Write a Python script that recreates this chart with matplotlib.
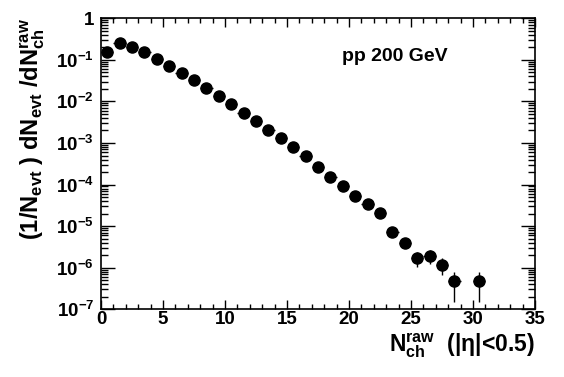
import numpy as np
import matplotlib
matplotlib.use('Agg')
import matplotlib.pyplot as plt
from matplotlib.ticker import LogLocator, MultipleLocator, FuncFormatter, NullFormatter

plt.rcParams['font.family'] = ['Liberation Sans', 'DejaVu Sans']
plt.rcParams['font.weight'] = 'bold'
plt.rcParams['mathtext.fontset'] = 'custom'
plt.rcParams['mathtext.rm'] = 'Liberation Sans:bold'
plt.rcParams['mathtext.it'] = 'Liberation Sans:bold'
plt.rcParams['mathtext.bf'] = 'Liberation Sans:bold'
plt.rcParams['mathtext.default'] = 'regular'

# multiplicity bins (bin centres) and normalised yields
nch = [0.5, 1.5, 2.5, 3.5, 4.5, 5.5, 6.5, 7.5, 8.5, 9.5, 10.5, 11.5, 12.5, 13.5,
       14.5, 15.5, 16.5, 17.5, 18.5, 19.5, 20.5, 21.5, 22.5, 23.5, 24.5, 25.5,
       26.5, 27.5, 28.5, 30.5]
yld = [0.157, 0.259, 0.207, 0.152, 0.107, 0.072, 0.049, 0.0333, 0.021, 0.0137,
       0.0088, 0.0054, 0.00344, 0.0021, 0.0013, 7.9e-4, 4.9e-4, 2.7e-4, 1.55e-4,
       9.4e-5, 5.4e-5, 3.4e-5, 2.1e-5, 7.4e-6, 4.0e-6, 1.74e-6, 1.95e-6, 1.18e-6,
       4.8e-7, 4.8e-7]
yerr = [0.001, 0.001, 0.001, 0.001, 0.001, 0.0007, 0.0005, 0.0004, 0.0003, 0.0002,
        0.00015, 0.0001, 7e-5, 5e-5, 4e-5, 2.5e-5, 1.8e-5, 1.2e-5, 8e-6,
        6e-6, 4e-6, 3e-6, 2.5e-6, 1.5e-6, 1.1e-6, 7e-7, 7.5e-7, 5e-7,
        3.3e-7, 3.3e-7]
xerr = [0.5] * len(nch)

fig = plt.figure(figsize=(5.64, 3.77), dpi=100)
ax = fig.add_axes([0.179, 0.1796, 0.7696, 0.7719])

ax.errorbar(nch, yld, yerr=yerr, xerr=xerr, fmt='o', color='black', ms=8,
            elinewidth=1.0, capsize=0)

ax.set_yscale('log')
ax.set_xlim(0, 35)
ax.set_ylim(1e-7, 1)

ax.xaxis.set_major_locator(MultipleLocator(5))
ax.xaxis.set_minor_locator(MultipleLocator(1))
ax.yaxis.set_major_locator(LogLocator(base=10, numticks=20))
ax.yaxis.set_minor_locator(LogLocator(base=10, subs=np.arange(2, 10), numticks=20))
ax.yaxis.set_minor_formatter(NullFormatter())


def yfmt(v, pos):
    e = int(round(np.log10(v)))
    if e == 0:
        return '1'
    return r'$10^{%d}$' % e


ax.yaxis.set_major_formatter(FuncFormatter(yfmt))

ax.tick_params(axis='x', which='major', direction='in', length=6.5, width=1,
               top=True, labelsize=13.5, pad=1)
ax.tick_params(axis='x', which='minor', direction='in', length=3.6, width=1, top=True)
ax.tick_params(axis='y', which='major', direction='in', length=10, width=1,
               right=True, labelsize=13.5, pad=5)
ax.tick_params(axis='y', which='minor', direction='in', length=5, width=1, right=True)
for s in ax.spines.values():
    s.set_linewidth(1.2)

ax.set_xlabel(r'N$_{ch}^{raw}$  (|η|<0.5)', fontsize=16.5, fontweight='bold', loc='right')
ax.xaxis.set_label_coords(1.0, -0.075)
ax.set_ylabel(r'(1/N$_{evt}$ ) dN$_{evt}$ /dN$_{ch}^{raw}$', fontsize=17, fontweight='bold',
              loc='top')
ax.yaxis.set_label_coords(-0.125, 1.0)

ax.text(0.555, 0.854, 'pp 200 GeV', transform=ax.transAxes, fontsize=14,
        fontweight='bold')

plt.savefig('out.png', dpi=100)
